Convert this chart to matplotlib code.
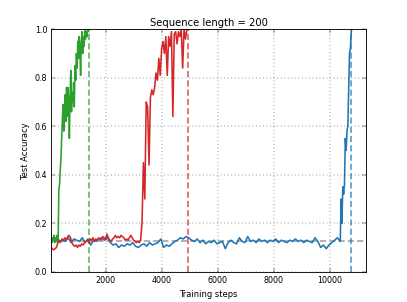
import numpy as np
import matplotlib
matplotlib.use("Agg")
from matplotlib import pyplot as plt

# Test accuracy recorded during training (one run per model)
green_acc = [0.13, 0.12, 0.14, 0.13, 0.15, 0.12, 0.14, 0.13, 0.15, 0.12,
             0.14, 0.34, 0.36, 0.42, 0.47, 0.55, 0.63, 0.69, 0.58, 0.66,
             0.73, 0.62, 0.76, 0.64, 0.76, 0.70, 0.55, 0.72, 0.83, 0.66,
             0.74, 0.70, 0.78, 0.68, 0.85, 0.79, 0.90, 0.84, 0.95, 0.88,
             0.97, 0.92, 0.81, 0.95, 0.99, 0.90, 0.97, 0.93, 1.00, 0.96,
             0.99, 0.97, 1.00, 0.99, 1.00]

red_acc = [0.10, 0.095, 0.09, 0.095, 0.10,
           0.12, 0.13, 0.125, 0.135, 0.13, 0.14, 0.13, 0.145, 0.15, 0.14,
           0.12, 0.11, 0.105, 0.11, 0.10, 0.11, 0.105, 0.115, 0.11, 0.12,
           0.125, 0.13, 0.12, 0.135, 0.13, 0.14, 0.125, 0.135, 0.13, 0.14,
           0.135, 0.13, 0.145, 0.14, 0.135, 0.155, 0.14, 0.13, 0.125, 0.135,
           0.14, 0.15, 0.14, 0.145, 0.14, 0.15, 0.145, 0.14, 0.13, 0.135,
           0.13, 0.14, 0.15, 0.14, 0.13, 0.125, 0.12, 0.125, 0.12, 0.13,
           0.20, 0.45, 0.30, 0.70, 0.68, 0.44, 0.72, 0.75, 0.73, 0.76,
           0.82, 0.79, 0.88, 0.81, 0.92, 0.95, 0.90, 0.97, 0.81, 0.97,
           0.93, 0.99, 0.64, 0.98, 0.99, 0.94, 0.99, 0.97, 1.00, 0.84,
           1.00, 0.96, 1.00, 1.00]

blue_acc = [0.14, 0.13, 0.14, 0.12, 0.13, 0.125, 0.14, 0.12, 0.135, 0.13,
            0.125, 0.14, 0.12, 0.135, 0.11, 0.13, 0.125, 0.135, 0.14, 0.13,
            0.14, 0.12, 0.11, 0.115, 0.10, 0.11, 0.105, 0.115, 0.11, 0.12,
            0.105, 0.10, 0.11, 0.115, 0.105, 0.12, 0.11, 0.115, 0.12, 0.135,
            0.10, 0.11, 0.105, 0.115, 0.125, 0.13, 0.14, 0.135, 0.145, 0.14,
            0.13, 0.125, 0.135, 0.12, 0.13, 0.115, 0.125, 0.12, 0.13, 0.115,
            0.12, 0.125, 0.095, 0.12, 0.13, 0.12, 0.115, 0.14, 0.125, 0.12,
            0.145, 0.125, 0.13, 0.12, 0.135, 0.125, 0.13, 0.12, 0.13, 0.125,
            0.135, 0.12, 0.13, 0.125, 0.12, 0.13, 0.125, 0.135, 0.125, 0.13,
            0.12, 0.13, 0.125, 0.12, 0.14, 0.125, 0.10, 0.11, 0.095, 0.11,
            0.12, 0.13, 0.14, 0.125,
            0.30, 0.20, 0.35, 0.32, 0.36, 0.55, 0.50, 0.58, 0.60, 0.75,
            0.90, 0.92, 1.00]
blue_tail_steps = [10400, 10430, 10460, 10490, 10520, 10550, 10580, 10610,
                   10640, 10670, 10700, 10730, 10770]

# steps at which each run was evaluated
green_steps = 60 + 25 * np.arange(len(green_acc))
red_steps = 50 + 50 * np.arange(len(red_acc))
n_tail = len(blue_tail_steps)
blue_steps = np.concatenate([70 + 100 * np.arange(len(blue_acc) - n_tail),
                             blue_tail_steps])

chance = 0.125

plt.style.use("classic")
fig = plt.figure(figsize=(6.4, 4.764), dpi=63.6)
ax = fig.add_subplot(111)
fig.subplots_adjust(left=0.125, right=0.9, bottom=0.1, top=0.9)

ax.axhline(chance, color="#aaaaaa", linestyle="--", dashes=(7, 3.5),
           linewidth=2, zorder=1)

runs = [(blue_steps, blue_acc, "#1f77b4"),
        (green_steps, green_acc, "#2ca02c"),
        (red_steps, red_acc, "#d62728")]
for steps, acc, col in runs:
    ax.plot(steps, acc, color=col, linewidth=1.8)
    ax.axvline(steps[-1], color=col, linestyle="--", dashes=(7, 3.5),
               linewidth=2, alpha=0.7)

ax.set_xlim(50, 11300)
ax.set_ylim(0, 1.0)
ax.set_xticks([2000, 4000, 6000, 8000, 10000])
ax.tick_params(labelsize=9)
ax.grid(True)
ax.set_title("Sequence length = 200", fontsize=11.3)
ax.set_xlabel("Training steps", fontsize=9.5)
ax.set_ylabel("Test Accuracy", fontsize=9.5)

fig.savefig("out.png", dpi=63.6)
